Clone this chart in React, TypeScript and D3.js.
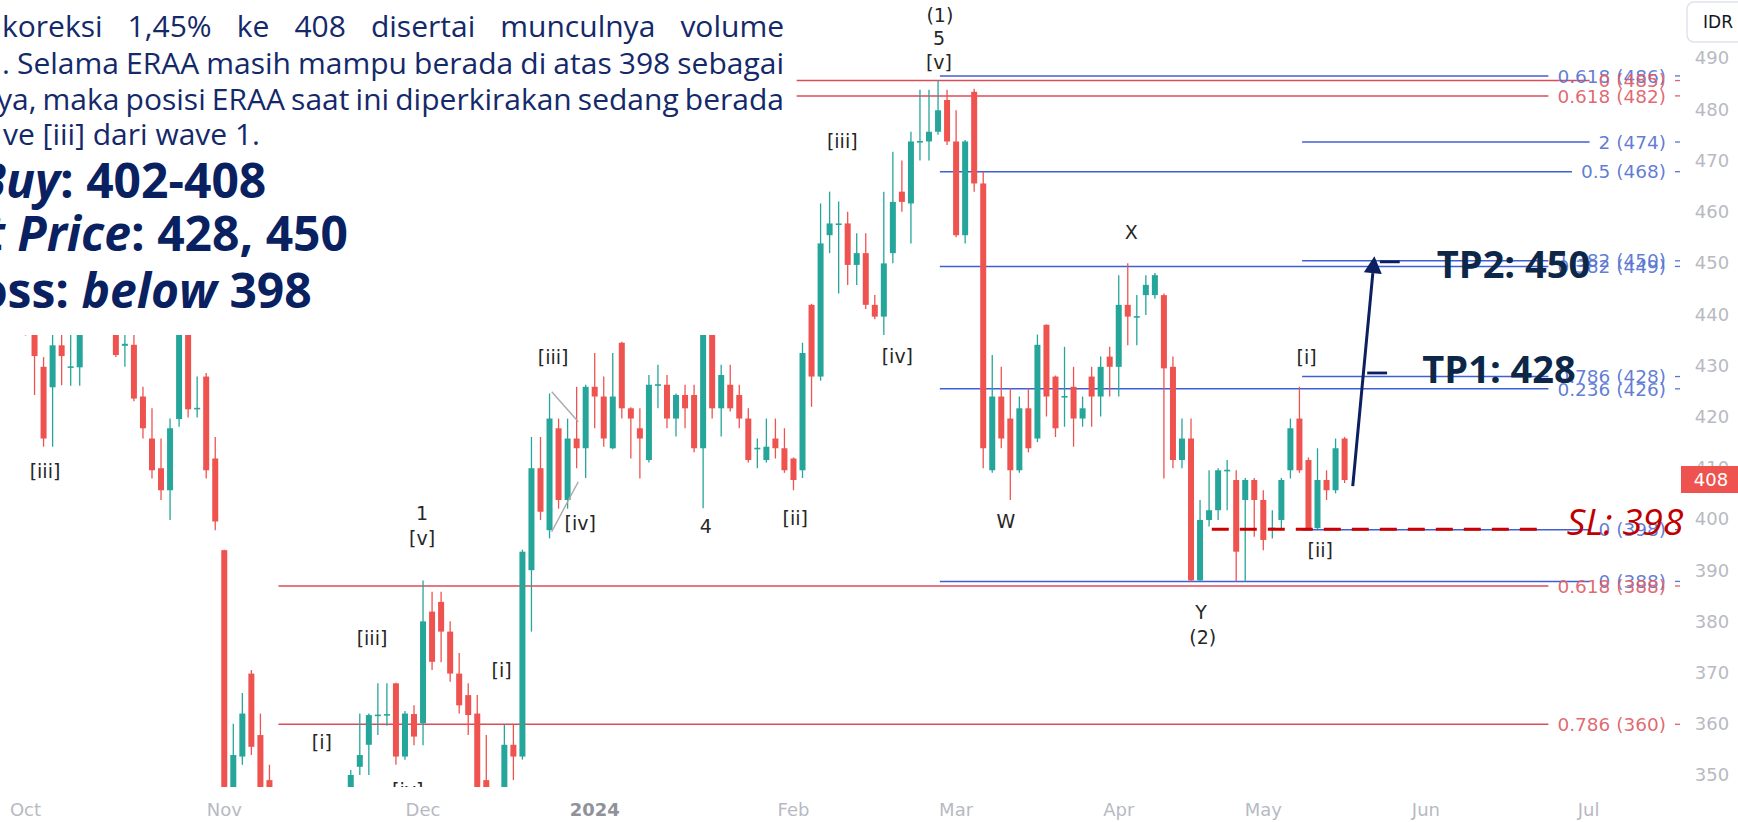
import React from 'react';
import * as d3 from 'd3';

type Candle = [number, number, number, number] | null; // [open, high, low, close]

// Daily candles by month (trading-day order). null = hidden in the reference
const octCandles: Candle[] = [
  [442, 444, 435.8, 438], [438, 442, 424.2, 431.8], [429.7, 431.6, 414.1, 415.7],
  [425.7, 437, 414.1, 433.9], [433.9, 437, 426.1, 431.8], [429.6, 437, 426, 429.8],
  [429.6, 440, 426, 438], null, null, null,
  [437, 439, 431.6, 432], [433.8, 438, 429.7, 434.2], [434, 437, 423, 423.5],
  [423.9, 425.8, 415.7, 417.7], [415.7, 421.6, 407.9, 409.5], [409.9, 415.7, 403.7, 405.6],
  [405.6, 419.6, 399.8, 417.7], [419.5, 443, 418, 440], [440, 442, 419.8, 421.4],
  [421.5, 427.8, 419.8, 421.7], [427.8, 428.5, 407.9, 409.5], [411.8, 416, 397.8, 399.5],
];
const novCandles: Candle[] = [
  [393.9, 394, 338, 340], [345, 360, 340, 353.9], [353.6, 366, 352, 362],
  [369.8, 370.5, 353.9, 355.5], [357.8, 362, 345, 347], [349, 352, 344, 346],
  null, null, null, null, null, null, null, null,
  [347, 351, 345, 350], [351.6, 362, 350, 353.9], [355.9, 362, 350, 361.7],
  [361.6, 367.9, 357.8, 361.8], [361.8, 367.9, 359.6, 361.9], [367.9, 368, 352, 353.6],
  [353.6, 362.5, 353, 362], [361.9, 363.6, 355.8, 357.5],
];
const decCandles: Candle[] = [
  [360.1, 388, 355.8, 380], [381.9, 385.8, 370.5, 372.1], [383.8, 385.8, 372, 378],
  [378, 380, 368.2, 369.8], [369.8, 373.8, 362, 363.6], [365.6, 367.9, 357.8, 361.7],
  [362, 365.6, 345, 347], [349, 357.8, 344, 346], null,
  [347, 359.8, 345, 355.9], [355.9, 359.8, 349, 353.6], [353.6, 394, 353, 393.6],
  [390, 416, 378, 409.9], [409.9, 416, 399.8, 401.4], [397.8, 424.5, 396.2, 419.6],
  [417.7, 419.6, 402, 403.7], [403.7, 419.6, 402, 415.7], [415.7, 425.8, 409.9, 413.8],
  [413.8, 426.2, 408, 425.8],
];
const janCandles: Candle[] = [
  [425.8, 432.4, 417.7, 423.9], [423.9, 427.8, 414.1, 415.7], [413.8, 432.4, 413.6, 423.9],
  [434.4, 434.6, 419.6, 421.6], [421.6, 421.8, 411.8, 419.6], [417.7, 421.6, 407.9, 415.7],
  [411.5, 428.1, 411, 426.2], [426.1, 430.1, 421.6, 426.3], [426.2, 428.1, 417.7, 419.6],
  [419.6, 424.5, 416.1, 424.2], [424.2, 426.2, 417.7, 421.6], [424.2, 426.2, 413, 413.8],
  [413.8, 440, 402.1, 438], [438, 439, 419.6, 421.6], [421.6, 430.1, 416.1, 428.1],
  [426.2, 430.1, 421, 421.6], [424.2, 426.2, 417.7, 419.6], [419.6, 421.6, 411, 411.5],
  [413.7, 415.7, 409.9, 413.9], [411.5, 419.6, 411, 414.1], [415.7, 419.6, 411.8, 413.8],
  [413.8, 417.7, 409, 409.5],
];
const febCandles: Candle[] = [
  [411.8, 412, 405.6, 407.6], [409.5, 434.4, 408, 432.4], [441.8, 442, 421.9, 427.8],
  [427.8, 461.6, 427, 453.8], [455.4, 463.9, 451.9, 457.7], [457.5, 462, 444, 457.7],
  [457.7, 460, 445.7, 449.6], [449.6, 455.8, 445.7, 451.9], [451.9, 455.8, 441, 441.8],
  [441.8, 443.7, 439, 439.5], [439.5, 463.9, 435.9, 449.9], [451.9, 471.7, 449.9, 461.9],
  [463.9, 470, 460, 461.9], [461.6, 475.6, 453.8, 473.7], [473.6, 483.8, 470, 473.8],
  [473.7, 483.8, 470, 475.6], [475.6, 485.6, 475, 479.8], [481.8, 483.8, 473, 473.7],
];
const marCandles: Candle[] = [
  [473.7, 479.8, 455, 455.4], [455.4, 474, 453.8, 473.7], [483.4, 484, 463.9, 465.5],
  [465.5, 467.8, 409.9, 413.8], [409.5, 432, 409, 423.9], [423.9, 429.7, 413.8, 415.7],
  [419.6, 425.5, 403.7, 409.5], [409.5, 423.9, 409, 421.6], [421.6, 425.5, 413, 413.8],
  [415.7, 436, 415, 434], [437.9, 438, 420, 423.9], [427.8, 428, 416, 417.7],
  [423.8, 433.6, 418, 424], [425.8, 429.7, 414.1, 419.6], [419.6, 423.9, 418, 421.6],
  [427.8, 429.7, 418, 423.9], [423.9, 431.7, 420, 429.7], [431.7, 433.6, 423.9, 429.7],
];
const aprCandles: Candle[] = [
  [429.7, 447.6, 423.9, 441.8], [441.8, 449.9, 433.9, 439.5], [439.4, 443.7, 433.9, 439.6],
  [443.7, 447.6, 439.8, 445.7], [443.7, 448, 443, 447.6], [443.7, 444, 407.9, 429.4],
  [429.7, 431.7, 409.9, 411.5], [411.5, 419.6, 409.9, 415.7], [415.7, 419.6, 387.8, 388],
  [388, 403.7, 387.8, 399.8], [399.8, 409.5, 398.5, 401.7], [401.7, 409.9, 399.8, 409.5],
  [409.4, 411.5, 401.7, 409.6], [407.6, 409.5, 387.8, 393.6], [403.7, 408, 387.8, 407.6],
  [407.6, 408, 396.5, 403.7],
];
const mayCandles: Candle[] = [
  [403.7, 405.6, 393.9, 395.9], [398.1, 401.7, 396.2, 398.3], [399.8, 408, 398.2, 407.6],
  [409.5, 419.6, 407.9, 417.7], [419.6, 425.8, 409, 409.5], [411.5, 412, 398, 398.2],
  [398.2, 413.8, 398, 407.6], [407.6, 409.5, 403.7, 405.6], [405.6, 415.7, 405, 413.8],
  [415.7, 416, 407, 407.6],
];

const monthLabels = ['Oct', 'Nov', 'Dec', '2024', 'Feb', 'Mar', 'Apr', 'May', 'Jun', 'Jul'];
const monthStartIndex = [0, 22, 44, 63, 85, 103, 121, 137, 155, 173];
const priceTicks = [350, 360, 370, 380, 390, 400, 410, 420, 430, 440, 450, 460, 470, 480, 490];

// Fibonacci levels
const fibRatios = ['0.618', '0', '0.618', '2', '0.5', '1.382', '0.382', '0.786', '0.236', '0', '0', '0.618', '0.786'];
const fibPrices = [486.5, 485.6, 482.6, 473.6, 467.8, 450.4, 449.3, 427.8, 425.4, 397.9, 387.8, 386.9, 359.9];
const fibShown = [486, 485, 482, 474, 468, 450, 449, 428, 426, 398, 388, 388, 360];
const fibKinds = ['b', 'r', 'r', 'b', 'b', 'b', 'b', 'b', 'b', 'b', 'b', 'r', 'r'];
const fibStartIndex = [101.2, 85.35, 85.35, 141.3, 101.2, 141.3, 101.2, 141.3, 101.2, 141.3, 101.2, 28, 28];

// Elliott wave labels: [text, index, price]
const waveLabels: [string, number, number][] = [
  ['[iii]', 2.16, 409.4], ['1', 43.9, 401.2], ['[v]', 43.9, 396.3], ['[iii]', 38.35, 376.8],
  ['[i]', 52.7, 370.5], ['[i]', 32.8, 356.4], ['[iv]', 42.3, 347.0], ['[iii]', 58.4, 431.6],
  ['[iv]', 61.4, 399.2], ['4', 75.3, 398.6], ['[ii]', 85.2, 400.2], ['[iii]', 90.4, 473.8],
  ['[iv]', 96.5, 431.8], ['(1)', 101.2, 498.4], ['5', 101.1, 493.9], ['[v]', 101.1, 489.2],
  ['W', 108.5, 399.6], ['X', 122.4, 456.0], ['Y', 130.1, 381.8], ['(2)', 130.3, 376.9],
  ['[i]', 141.8, 431.6], ['[ii]', 143.3, 393.9],
];

const paragraphLines = [
  'koreksi 1,45% ke 408 disertai munculnya volume',
  '. Selama ERAA masih mampu berada di atas 398 sebagai',
  'ya, maka posisi ERAA saat ini diperkirakan sedang berada',
  've [iii] dari wave 1.',
];

const UI = "'DejaVu Sans', sans-serif";
const TXT = "'Open Sans', sans-serif";
const GREEN = '#26a69a';
const RED = '#ef5350';

let ctx: CanvasRenderingContext2D | null = null;
function tw(t: string, font: string) {
  if (!ctx && typeof document !== 'undefined') ctx = document.createElement('canvas').getContext('2d');
  if (!ctx) return t.length * 10;
  ctx.font = font;
  return ctx.measureText(t).width;
}

export default function App() {
  const candles: Candle[] = [
    ...octCandles, ...novCandles, ...decCandles, ...janCandles,
    ...febCandles, ...marCandles, ...aprCandles, ...mayCandles,
  ];
  const x = d3.scaleLinear().domain([0, 173]).range([25.5, 25.5 + 173 * 9.035]);
  const y = d3.scaleLinear().domain([350, 490]).range([775, 58]);
  const bodyW = 6;

  const fibFont = `18.5px ${UI}`;
  const labelRight = 1666;

  // paragraph
  const pSize = 30;
  const pFont = `${pSize}px ${TXT}`;
  const justify = (line: string, x0: number, x1: number) => {
    const spaces = (line.match(/ /g) || []).length;
    const w = tw(line, pFont);
    return spaces ? (x1 - x0 - w) / spaces : 0;
  };
  const pRight = 784;
  const pSpecs = [
    { x0: 2, x1: pRight, y: 37, j: true },
    { x0: 2, x1: pRight, y: 74, j: true },
    { x0: -3, x1: pRight, y: 109.5, j: true },
    { x0: 3, x1: 0, y: 145, j: false },
  ];

  const bSize = 48;
  const boldFont = `bold ${bSize}px ${TXT}`;
  const boldItFont = `italic bold ${bSize}px ${TXT}`;
  const navy = '#0a2161';

  // arrow
  const a0 = [x(146.9), y(406.4)];
  const a1 = [x(149.3), y(451.3)];
  const dx = a1[0] - a0[0], dy = a1[1] - a0[1];
  const len = Math.hypot(dx, dy);
  const ux = dx / len, uy = dy / len;
  const bc = [a1[0] - ux * 17, a1[1] - uy * 17];
  const px = -uy, py = ux;
  const head = `${a1[0]},${a1[1]} ${bc[0] + px * 9},${bc[1] + py * 9} ${bc[0] - px * 9},${bc[1] - py * 9}`;

  return (
    <div style={{ position: 'absolute', left: 0, top: 0 }}>
      <svg width={1738} height={822} viewBox="0 0 1738 822" style={{ display: 'block', background: '#fff' }}>
        <defs>
          <clipPath id="plot">
            <rect x={0} y={0} width={1690} height={787} />
          </clipPath>
        </defs>
        <rect x={0} y={0} width={1738} height={822} fill="#fff" />

        <g clipPath="url(#plot)">
          {/* fib lines */}
          {fibPrices.map((p, i) => {
            const label = `${fibRatios[i]} (${fibShown[i]})`;
            const end = labelRight - tw(label, fibFont) - 9;
            return (
              <line key={'fl' + i} x1={x(fibStartIndex[i])} x2={end} y1={y(p)} y2={y(p)}
                stroke={fibKinds[i] === 'b' ? '#3f5fd6' : '#dd4b57'} strokeWidth={1.5} />
            );
          })}

          {/* candles */}
          {candles.map((c, i) => {
            if (!c) return null;
            const [o, h, l, cl] = c;
            const col = cl >= o ? GREEN : RED;
            const top = y(Math.max(o, cl));
            const bot = y(Math.min(o, cl));
            const cx = x(i);
            return (
              <g key={'c' + i}>
                <line x1={cx} x2={cx} y1={y(h)} y2={y(l)} stroke={col} strokeWidth={1.3} />
                <rect x={cx - bodyW / 2} y={top} width={bodyW} height={Math.max(1.6, bot - top)} fill={col} />
              </g>
            );
          })}

          {/* small triangle lines */}
          <line x1={x(58.24)} y1={y(424.85)} x2={x(61.18)} y2={y(418.99)} stroke="#a9a9a9" strokeWidth={1.4} />
          <line x1={x(58.24)} y1={y(397.5)} x2={x(61.18)} y2={y(407.26)} stroke="#a9a9a9" strokeWidth={1.4} />

          {/* wave labels */}
          {waveLabels.map(([t, i, p], k) => (
            <text key={'w' + k} x={x(i)} y={y(p)} dy="0.36em" textAnchor="middle"
              fontFamily={UI} fontSize={19} fill="#262626">{t}</text>
          ))}
        </g>

        {/* text overlay box */}
        <rect x={0} y={0} width={790} height={335} fill="#fff" />
        {paragraphLines.map((line, i) => {
          const s = pSpecs[i];
          const ws = s.j ? justify(line, s.x0, s.x1) : 0;
          return (
            <text key={'p' + i} x={s.x0} y={s.y} fontFamily={TXT} fontSize={pSize} fill="#14296a"
              wordSpacing={ws} style={{ whiteSpace: 'pre' }}>{line}</text>
          );
        })}
        <text x={60 - tw('Buy', boldItFont)} y={198} fontFamily={TXT} fontSize={bSize} fontWeight="bold" fill={navy}>
          <tspan fontStyle="italic">Buy</tspan><tspan>: 402-408</tspan>
        </text>
        <text x={131 - tw('t Price', boldItFont)} y={251} fontFamily={TXT} fontSize={bSize} fontWeight="bold" fill={navy}>
          <tspan fontStyle="italic">t Price</tspan><tspan>: 428, 450</tspan>
        </text>
        <text x={69 - tw('oss:', boldFont)} y={308} fontFamily={TXT} fontSize={bSize} fontWeight="bold" fill={navy}
          style={{ whiteSpace: 'pre' }}>
          <tspan>oss: </tspan><tspan fontStyle="italic">below</tspan><tspan> 398</tspan>
        </text>

        {/* fib labels */}
        {fibPrices.map((p, i) => {
          const label = `${fibRatios[i]} (${fibShown[i]})`;
          const isB = fibKinds[i] === 'b';
          return (
            <g key={'fx' + i}>
              <text x={labelRight} y={y(p)} dy="0.36em" textAnchor="end" fontFamily={UI} fontSize={18.5}
                fill={isB ? '#5876d2' : '#e05f69'} fillOpacity={0.95}>{label}</text>
              <line x1={1675} x2={1680} y1={y(p)} y2={y(p)} stroke={isB ? '#5876d2' : '#e05f69'} strokeWidth={1.3} />
            </g>
          );
        })}

        {/* SL dashed line */}
        <line x1={x(131.3)} x2={x(167.7)} y1={y(398)} y2={y(398)} stroke="#cc0000" strokeWidth={3}
          strokeDasharray="17 11" />

        {/* arrow */}
        <line x1={a0[0]} y1={a0[1]} x2={bc[0]} y2={bc[1]} stroke="#0c1f5e" strokeWidth={3} />
        <polygon points={head} fill="#0c1f5e" />
        <line x1={x(149.9)} x2={x(152.1)} y1={y(450.2)} y2={y(450.2)} stroke="#0c1f5e" strokeWidth={2.8} />
        <line x1={x(148.5)} x2={x(150.7)} y1={y(428.5)} y2={y(428.5)} stroke="#0c1f5e" strokeWidth={2.8} />

        <text x={x(156.2)} y={y(447.0)} fontFamily={TXT} fontWeight="bold" fontSize={38} fill="#0c2747">TP2: 450</text>
        <text x={x(154.6)} y={y(426.5)} fontFamily={TXT} fontWeight="bold" fontSize={38} fill="#0c2747">TP1: 428</text>
        <text x={x(170.6)} y={y(396.9)} fontFamily={TXT} fontStyle="italic" fontSize={37} fill="#c00000">SL: 398</text>

        {/* right price axis */}
        {priceTicks.map((p) => (
          <text key={'pt' + p} x={1712} y={y(p)} dy="0.36em" textAnchor="middle" fontFamily={UI}
            fontSize={18} fill="#b7bac2">{p}</text>
        ))}
        <rect x={1681} y={466} width={60} height={27} fill="#ef5350" />
        <text x={1711} y={479.5} dy="0.36em" textAnchor="middle" fontFamily={UI} fontSize={18} fill="#fff">408</text>
        <rect x={1687} y={2} width={62} height={40} rx={7} fill="#fff" stroke="#e0e3eb" strokeWidth={1.5} />
        <text x={1718} y={22} dy="0.36em" textAnchor="middle" fontFamily={UI} fontSize={17} fill="#131722">IDR</text>

        {/* time axis */}
        {monthLabels.map((m, i) => (
          <text key={'m' + i} x={x(monthStartIndex[i])} y={810} dy="0.36em" textAnchor="middle" fontFamily={UI}
            fontSize={18} fontWeight={m === '2024' ? 'bold' : 'normal'}
            fill={m === '2024' ? '#8f929b' : '#b7bac2'}>{m}</text>
        ))}
      </svg>
    </div>
  );
}
